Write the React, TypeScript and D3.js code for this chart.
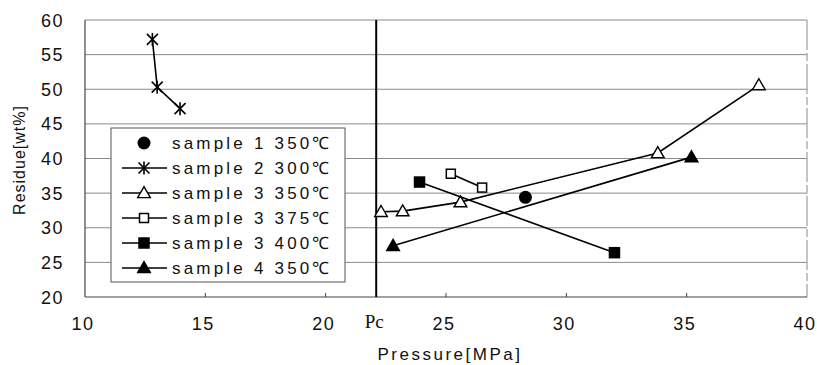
import React from "react";
import * as d3 from "d3";

const xTicks = [10, 15, 20, 25, 30, 35, 40];
const yTicks = [20, 25, 30, 35, 40, 45, 50, 55, 60];
const pc = 22.1;

const seriesNames = [
  "sample 1 350℃",
  "sample 2 300℃",
  "sample 3 350℃",
  "sample 3 375℃",
  "sample 3 400℃",
  "sample 4 350℃",
];
const seriesMarkers = ["circle", "star", "triOpen", "sqOpen", "sqFilled", "triFilled"];
const seriesLines = [false, true, true, true, true, true];

const s1x = [28.3];
const s1y = [34.4];
const s2x = [12.8, 13.0, 13.95];
const s2y = [57.2, 50.3, 47.2];
const s3ax = [22.3, 23.2, 25.6, 33.8, 38.0];
const s3ay = [32.3, 32.4, 33.7, 40.8, 50.6];
const s3bx = [25.2, 26.5];
const s3by = [37.8, 35.8];
const s3cx = [23.9, 32.0];
const s3cy = [36.6, 26.4];
const s4x = [22.8, 35.2];
const s4y = [27.4, 40.2];

const seriesX = [s1x, s2x, s3ax, s3bx, s3cx, s4x];
const seriesY = [s1y, s2y, s3ay, s3by, s3cy, s4y];

const W = 817, H = 365;
const L = 85, R = 807, T = 20, B = 297;
const font = "'Liberation Sans', Arial, sans-serif";

function Marker({ kind, x, y }: { kind: string; x: number; y: number }) {
  if (kind === "circle") return <circle cx={x} cy={y} r={6.5} fill="#000" />;
  if (kind === "star") {
    const s = 5.5;
    return (
      <g stroke="#000" strokeWidth={1.6}>
        <line x1={x - s} y1={y - s} x2={x + s} y2={y + s} />
        <line x1={x - s} y1={y + s} x2={x + s} y2={y - s} />
        <line x1={x} y1={y - s - 1} x2={x} y2={y + s + 1} />
      </g>
    );
  }
  if (kind === "triOpen" || kind === "triFilled") {
    const p = d3.symbol().type(d3.symbolTriangle).size(70)() as string;
    return (
      <path d={p} transform={`translate(${x},${y + 1})`} fill={kind === "triFilled" ? "#000" : "#fff"} stroke="#000" strokeWidth={1.4} />
    );
  }
  const filled = kind === "sqFilled";
  const s = filled ? 10 : 9;
  return <rect x={x - s / 2} y={y - s / 2} width={s} height={s} fill={filled ? "#000" : "#fff"} stroke="#000" strokeWidth={1.5} />;
}

export default function App() {
  const x = d3.scaleLinear().domain([10, 40]).range([L, R]);
  const y = d3.scaleLinear().domain([20, 60]).range([B, T]);
  const line = d3.line<[number, number]>().x((d) => x(d[0])).y((d) => y(d[1]));

  const legX = 111, legY = 128, legW = 234, legH = 154;
  const rowY = (i: number) => legY + 15 + i * 25;

  return (
    <svg width={W} height={H} style={{ position: "absolute", left: 0, top: 0, background: "#fff" }}>
      <rect x={0} y={0} width={W} height={H} fill="#fff" />
      {/* gridlines */}
      {yTicks.filter((t) => t > 20).map((t) => (
        <line key={t} x1={L} x2={R} y1={y(t)} y2={y(t)} stroke="#8a8a8a" strokeWidth={1} />
      ))}
      <line x1={R} x2={R} y1={T} y2={B} stroke="#8a8a8a" strokeWidth={1} strokeDasharray="30,3,8,3" />
      {/* axes */}
      <line x1={L} x2={L} y1={T} y2={B} stroke="#444" strokeWidth={1.2} />
      <line x1={L} x2={R} y1={B} y2={B} stroke="#444" strokeWidth={1.2} />
      {xTicks.slice(1, -1).map((t) => (
        <line key={t} x1={x(t)} x2={x(t)} y1={B} y2={B - 4} stroke="#444" strokeWidth={1} />
      ))}
      {/* Pc line */}
      <line x1={x(pc)} x2={x(pc)} y1={T} y2={B} stroke="#000" strokeWidth={2} />
      {/* y tick labels */}
      {yTicks.map((t) => (
        <text key={t} x={64} y={y(t) + 6.5} textAnchor="end" fontFamily={font} fontSize={18} letterSpacing={1.5} fill="#111">
          {t}
        </text>
      ))}
      {/* x tick labels */}
      {xTicks.map((t) => (
        <text key={t} x={x(t) - 2} y={330} textAnchor="middle" fontFamily={font} fontSize={18} letterSpacing={1.5} fill="#111">
          {t}
        </text>
      ))}
      <text x={x(pc) - 2} y={328} textAnchor="middle" fontFamily="'Liberation Serif', 'Times New Roman', serif" fontSize={19} fill="#111">
        Pc
      </text>
      <text x={450} y={360} textAnchor="middle" fontFamily={font} fontSize={17} letterSpacing={2.5} fill="#111">
        Pressure[MPa]
      </text>
      <text transform={`translate(25,160) rotate(-90)`} textAnchor="middle" fontFamily={font} fontSize={16} letterSpacing={1} fill="#111">
        Residue[wt%]
      </text>
      {/* series */}
      {seriesNames.map((n, i) => {
        const pts: [number, number][] = seriesX[i].map((v, j) => [v, seriesY[i][j]]);
        return (
          <g key={n}>
            {seriesLines[i] && <path d={line(pts) as string} fill="none" stroke="#000" strokeWidth={1.6} />}
            {pts.map((p, j) => (
              <Marker key={j} kind={seriesMarkers[i]} x={x(p[0])} y={y(p[1])} />
            ))}
          </g>
        );
      })}
      {/* legend */}
      <rect x={legX} y={legY} width={legW} height={legH} fill="#fff" stroke="#555" strokeWidth={1} />
      {seriesNames.map((n, i) => (
        <g key={n}>
          {seriesLines[i] && <line x1={122} x2={167} y1={rowY(i)} y2={rowY(i)} stroke="#000" strokeWidth={1.6} />}
          <Marker kind={seriesMarkers[i]} x={144} y={rowY(i)} />
          <text x={172} y={rowY(i) + 6} fontFamily={font} fontSize={17} letterSpacing={3.2} fill="#111">
            {n}
          </text>
        </g>
      ))}
    </svg>
  );
}
